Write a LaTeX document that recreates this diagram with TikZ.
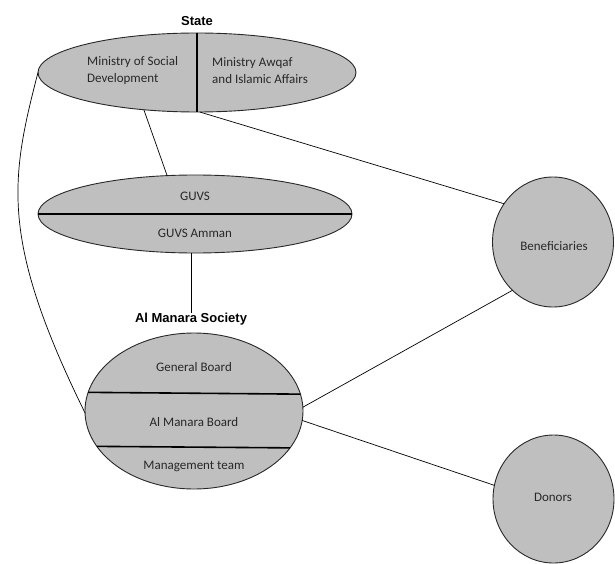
\documentclass[tikz,border=0pt]{standalone}
\usepackage{fontspec}
\setmainfont{Carlito}
\newfontfamily\headfont{Liberation Sans}
\usetikzlibrary{shapes.geometric}
\definecolor{fillgray}{RGB}{191,191,191}
\definecolor{inkgray}{RGB}{40,40,40}
\begin{document}
\begin{tikzpicture}[x=1pt,y=-1pt,
  blob/.style={ellipse,draw=inkgray,line width=0.9pt,fill=fillgray,inner sep=0pt,outer sep=0pt},
  txt/.style={font=\fontsize{13}{17}\selectfont,text=inkgray,inner sep=0pt},
  head/.style={font=\headfont\bfseries\fontsize{13}{15}\selectfont,inner sep=0pt},
  divider/.style={line width=1.6pt,black},
  link/.style={line width=0.7pt,black}]
\useasboundingbox (0,0) rectangle (615,564);

% State
\node[head] (statelabel) at (197,21) {State};
\node[blob,minimum width=318pt,minimum height=79pt] (state) at (197,72.5) {};
\draw[divider] (state.north) -- (state.south);
\node[txt,align=left,anchor=west] (msd) at (87,71) {Ministry of Social\\Development};
\node[txt,align=left,anchor=west] (maia) at (212,71) {Ministry Awqaf\\and Islamic Affairs};

% GUVS
\node[blob,minimum width=314pt,minimum height=78pt] (guvs) at (195,214) {};
\draw[divider] (guvs.west) -- (guvs.east);
\node[txt] (guvst) at (195,196) {GUVS};
\node[txt] (guvsa) at (195,233) {GUVS Amman};

% Al Manara Society
\node[head] (amlabel) at (191,319) {Al Manara Society};
\node[blob,minimum width=218pt,minimum height=156pt] (am) at (194,411) {};
\draw[divider] (am.170.4) -- (am.9.6);
\draw[divider] (am.200.4) -- (am.339.6);
\node[txt] (gb) at (194,367) {General Board};
\node[txt] (amb) at (194,422) {Al Manara Board};
\node[txt] (mt) at (194,466) {Management team};

% Beneficiaries and Donors
\node[blob,minimum width=121pt,minimum height=130pt] (ben) at (553,242) {};
\node[txt] (bent) at (554,246) {Beneficiaries};
\node[blob,minimum width=121pt,minimum height=128pt] (don) at (553.5,499) {};
\node[txt] (dont) at (553,497) {Donors};

% Connectors
\draw[link] (state.215) -- (guvs.126);
\draw[link] (amlabel.north |- guvs.south) -- (amlabel.north);
\draw[link] (state.274) -- (ben.142.8);
\draw[link] (am.2) -- (ben.230.2);
\draw[link] (am.355) -- (don.167);
\draw[link] (state.west) .. controls (10,180) and (0,240) .. (am.181);
\end{tikzpicture}
\end{document}
